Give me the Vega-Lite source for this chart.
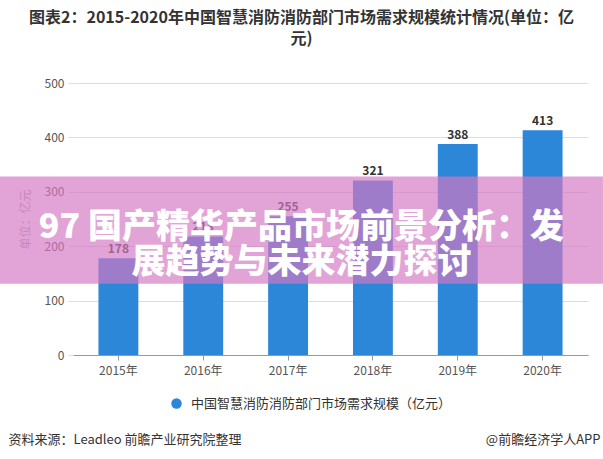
{
  "$schema": "https://vega.github.io/schema/vega-lite/v6.json",
  "autosize": {"type": "none"},
  "width": 515,
  "height": 272,
  "padding": {"left": 73, "top": 83, "right": 15, "bottom": 104},
  "background": "white",
  "config": {
    "font": "Noto Sans CJK SC",
    "view": {"stroke": null}
  },
  "title": {
    "text": ["图表2：2015-2020年中国智慧消防消防部门市场需求规模统计情况(单位：亿", "元)"],
    "fontSize": 16,
    "fontWeight": "bold",
    "color": "#333333",
    "lineHeight": 21,
    "anchor": "middle",
    "dx": -29,
    "offset": 30
  },
  "resolve": {"scale": {"x": "independent"}, "axis": {"x": "independent"}},
  "layer": [
    {
      "data": {
        "values": [
          {"year": "2015年", "value": 178, "series": "中国智慧消防消防部门市场需求规模（亿元）"},
          {"year": "2016年", "value": 218, "series": "中国智慧消防消防部门市场需求规模（亿元）"},
          {"year": "2017年", "value": 255, "series": "中国智慧消防消防部门市场需求规模（亿元）"},
          {"year": "2018年", "value": 321, "series": "中国智慧消防消防部门市场需求规模（亿元）"},
          {"year": "2019年", "value": 388, "series": "中国智慧消防消防部门市场需求规模（亿元）"},
          {"year": "2020年", "value": 413, "series": "中国智慧消防消防部门市场需求规模（亿元）"}
        ]
      },
      "layer": [
        {
          "mark": {"type": "bar", "color": "#2C87D9"},
          "encoding": {
            "x": {
              "field": "year", "type": "nominal", "sort": null,
              "scale": {"paddingInner": 0.53, "paddingOuter": 0.3},
              "axis": {
                "orient": "bottom",
                "labelAngle": 0, "labelFontSize": 12, "labelColor": "#555555", "labelPadding": 5,
                "domainColor": "#999999", "tickColor": "#999999", "tickSize": 5,
                "title": "@前瞻经济学人APP",
                "titleFontSize": 13, "titleFontWeight": "normal", "titleColor": "#333333",
                "titleAnchor": null, "titleAlign": "right", "titleBaseline": "middle",
                "titleX": 527, "titleY": 84
              }
            },
            "y": {
              "field": "value", "type": "quantitative",
              "scale": {"domain": [0, 500], "nice": false},
              "axis": {
                "values": [0, 100, 200, 300, 400, 500],
                "domain": false, "grid": true, "gridColor": "#dddddd",
                "tickColor": "#dddddd", "tickSize": 5,
                "labelFontSize": 12, "labelColor": "#555555", "labelPadding": 4,
                "title": "单位：亿元", "titleFontSize": 12, "titleFontWeight": "normal",
                "titleColor": "#aaaaaa", "titlePadding": 12
              }
            },
            "color": {
              "field": "series", "type": "nominal",
              "scale": {"range": ["#2C87D9"]},
              "legend": {
                "title": null, "orient": "none", "legendX": 97, "legendY": 314,
                "symbolType": "circle", "symbolSize": 110, "symbolStrokeWidth": 0,
                "labelFontSize": 13, "labelColor": "#333333", "labelOffset": 8, "labelLimit": 400
              }
            }
          }
        },
        {
          "mark": {"type": "text", "dy": -9, "fontSize": 12, "fontWeight": "bold", "color": "#333333"},
          "encoding": {
            "x": {"field": "year", "type": "nominal", "sort": null},
            "y": {"field": "value", "type": "quantitative"},
            "text": {"field": "value", "type": "quantitative"}
          }
        }
      ]
    },
    {
      "data": {
        "values": [
          {"line": ["97 国产精华产品市场前景分析：发", "展趋势与未来潜力探讨"]}
        ]
      },
      "layer": [
        {
          "mark": {"type": "rect", "fill": "#D478C3", "fillOpacity": 0.68, "clip": false},
          "encoding": {
            "x": {
              "datum": 0, "type": "quantitative",
              "scale": {"domain": [0.1211, 0.9752], "nice": false, "zero": false},
              "axis": {
                "orient": "bottom", "domain": false, "ticks": false, "labels": false, "grid": false,
                "title": "资料来源：Leadleo 前瞻产业研究院整理",
                "titleFontSize": 13, "titleFontWeight": "normal", "titleColor": "#333333",
                "titleAnchor": null, "titleAlign": "left", "titleBaseline": "middle",
                "titleX": -65, "titleY": 84
              }
            },
            "x2": {"datum": 1},
            "y": {"datum": 328, "type": "quantitative"},
            "y2": {"datum": 131}
          }
        },
        {
          "mark": {
            "type": "text",
            "fontSize": 34, "fontWeight": 900, "color": "white", "lineHeight": 35,
            "align": "center", "baseline": "middle", "clip": false
          },
          "encoding": {
            "x": {"datum": 0.5, "type": "quantitative"},
            "y": {"datum": 233, "type": "quantitative"},
            "text": {"field": "line"}
          }
        }
      ]
    }
  ]
}
